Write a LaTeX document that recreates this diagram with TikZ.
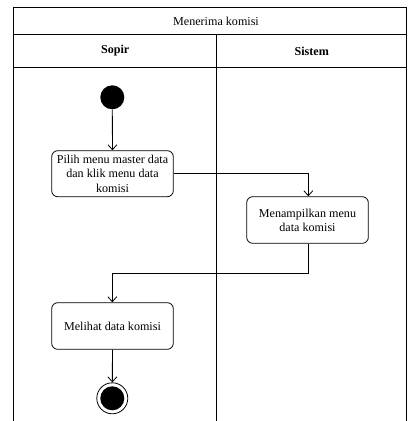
\documentclass[tikz,border=0pt]{standalone}
\usepackage{fontspec}
\setmainfont{Liberation Serif}
\usetikzlibrary{arrows.meta}
\tikzset{txt/.style={font=\fontsize{12.1}{14.2}\selectfont}}
\begin{document}
\begin{tikzpicture}[x=1pt,y=-1pt,
  act/.style={draw,rounded corners=6pt,line width=0.8pt,align=center,txt,inner sep=0pt},
  flow/.style={draw,line width=0.8pt,-{Straight Barb[length=5pt,width=9pt]}},
  lane/.style={draw,line width=0.8pt}]
\useasboundingbox (0,0) rectangle (408,421);
% swimlane frame
\draw[lane] (13.7,421) -- (13.7,7) -- (406.7,7) -- (406.7,421);
\draw[lane] (13.7,34) -- (406.7,34);
\draw[lane] (13.7,67) -- (406.7,67);
\draw[lane] (216.7,34) -- (216.7,421);
\node[txt] (title) at (216,21) {Menerima komisi};
\node[txt,font=\fontsize{12.1}{14.2}\selectfont\bfseries] (sopir) at (115.2,51) {Sopir};
\node[txt,font=\fontsize{12.1}{14.2}\selectfont\bfseries] (sistem) at (311.7,51) {Sistem};
% nodes
\node[circle,fill=black,minimum size=24pt,inner sep=0pt] (start) at (112.3,97.3) {};
\node[act,minimum width=121.6pt,minimum height=46pt] (a1) at (112.5,173.7) {Pilih menu master data\\dan klik menu data\\komisi};
\node[act,minimum width=121.6pt,minimum height=46.6pt] (a2) at (307.5,220) {Menampilkan menu\\data komisi};
\node[act,minimum width=121.6pt,minimum height=46.6pt] (a3) at (112.5,326) {Melihat data komisi};
\node[circle,draw,line width=0.8pt,minimum size=31pt,inner sep=0pt] (end) at (112.3,398.3) {};
\node[circle,fill=black,minimum size=24pt,inner sep=0pt] (endin) at (end.center) {};
% connectors
\draw[flow] (start) -- (a1);
\draw[flow] (a1.east |- 0,173.3) -| (a2.north -| 308.3,0);
\coordinate (b1) at (308.3,273.3);
\coordinate (b2) at (112.3,273.3);
\draw[flow] (a2.south -| 308.3,0) -- (b1) -- (b2) -- (a3.north -| 112.3,0);
\draw[flow] (a3) -- (end);
\end{tikzpicture}
\end{document}
